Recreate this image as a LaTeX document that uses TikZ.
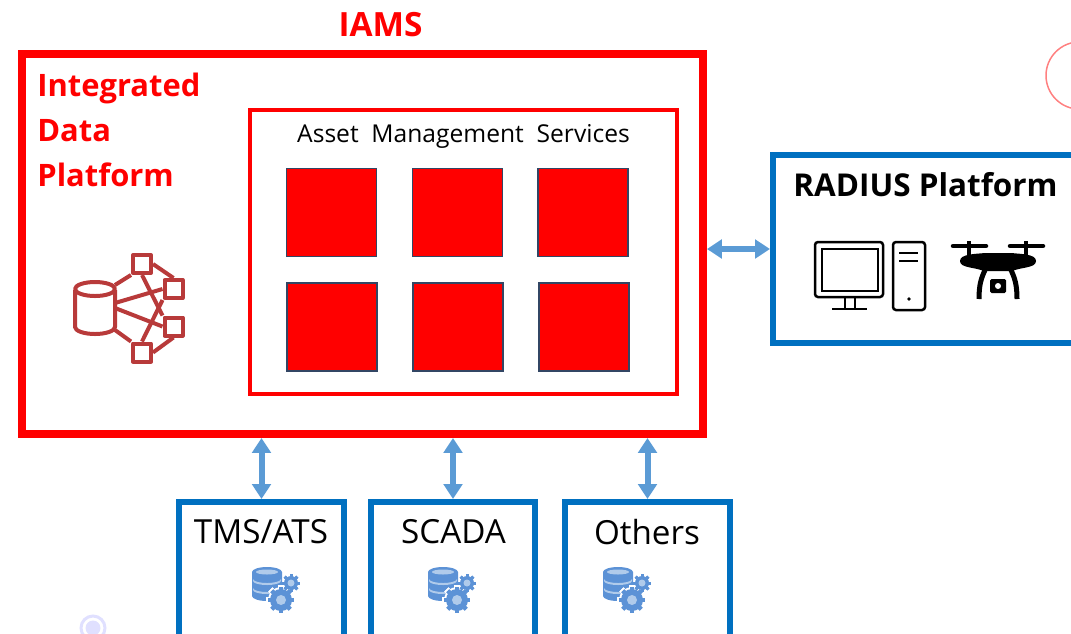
\documentclass[tikz,border=0pt]{standalone}
\usepackage{fontspec}
\setmainfont{Open Sans}
\usetikzlibrary{arrows.meta, positioning}

\definecolor{iamsred}{RGB}{255,0,0}
\definecolor{boxblue}{RGB}{0,112,192}
\definecolor{arrowblue}{RGB}{91,155,213}
\definecolor{iconred}{RGB}{184,58,58}
\definecolor{dbblue}{RGB}{92,146,214}
\definecolor{dblight}{RGB}{176,203,235}
\definecolor{squareedge}{RGB}{50,70,100}

\tikzset{
  redbox/.style={draw=iamsred, inner sep=0pt},
  bluebox/.style={draw=boxblue, line width=0.12cm, inner sep=0pt, anchor=north, minimum width=3.3cm, minimum height=5cm},
  service/.style={fill=iamsred, draw=squareedge, line width=0.03cm, inner sep=0pt, minimum width=1.8cm, minimum height=1.76cm},
  dblarrow/.style={{Triangle[length=0.3cm,width=0.37cm]}-{Triangle[length=0.3cm,width=0.37cm]}, draw=arrowblue, line width=0.12cm},
  iconline/.style={draw=iconred, line width=0.08cm, line join=round},
  pcline/.style={draw=black, line width=0.05cm, rounded corners=0.06cm},
  pics/dbgear/.style={code={
    \fill[dbblue] (0,4) -- (0,28) arc[start angle=180, end angle=0, x radius=15, y radius=5] -- (30,4) arc[start angle=0, end angle=-180, x radius=15, y radius=5] -- cycle;
    \fill[dblight] (1,11) arc[start angle=180, end angle=0, x radius=14, y radius=4] -- (29,13) arc[start angle=0, end angle=180, x radius=14, y radius=4] -- cycle;
    \fill[dblight] (1,20) arc[start angle=180, end angle=0, x radius=14, y radius=4] -- (29,22) arc[start angle=0, end angle=180, x radius=14, y radius=4] -- cycle;
    \fill[dblight] (15,4) ellipse[x radius=11, y radius=2.5];
    \foreach \a in {0,45,...,315} {
      \fill[white, rotate around={\a:(29,32)}] (26,17) rectangle (32,47);
    }
    \fill[white] (29,32) circle[radius=13];
    \foreach \a in {0,45,...,315} {
      \fill[dbblue, rotate around={\a:(29,32)}] (27,19) rectangle (31,45);
    }
    \fill[dbblue] (29,32) circle[radius=11];
    \fill[dblight] (29,32) circle[radius=5];
    \foreach \a in {0,45,...,315} {
      \fill[dbblue, rotate around={\a:(39,15)}] (37.5,6) rectangle (40.5,24);
    }
    \fill[dbblue] (39,15) circle[radius=7];
    \fill[dblight] (39,15) circle[radius=3.5];
  }}
}

\begin{document}
\begin{tikzpicture}[x=0.02cm, y=-0.02cm]
  \clip (0,0) rectangle (1071,633);

  % main boxes
  \node[redbox, line width=0.16cm, minimum width=13.62cm, minimum height=7.6cm] (iams) at (362.5,244) {};
  \node[redbox, line width=0.08cm, minimum width=8.54cm, minimum height=5.7cm] (ams) at (463.5,252) {};
  \node[draw=boxblue, line width=0.12cm, anchor=west, inner sep=0pt, minimum width=8cm, minimum height=3.78cm] (radius) at (770,249) {};
  \node[bluebox] (tms) at (261.5,499) {};
  \node[bluebox] (scada) at (453,499) {};
  \node[bluebox] (others) at (647.5,499) {};

  % labels
  \node[text=iamsred, font=\bfseries\fontsize{19}{22}\selectfont] (iamstitle) at (380.5,25) {IAMS};
  \node[text=iamsred, font=\bfseries\fontsize{17.6}{25.5}\selectfont, align=left, anchor=north west, inner sep=0pt] (idp) at (37,73) {Integrated\\Data\\Platform};
  \node[font=\fontsize{14}{16}\selectfont] (amstitle) at (463.5,136) {Asset\ \ Management\ \ Services};
  \node[font=\bfseries\fontsize{17.9}{20}\selectfont] (radiustitle) at (925.5,185) {RADIUS Platform};
  \node[font=\fontsize{18.9}{22}\selectfont] (tmstitle) at (261,532) {TMS/ATS};
  \node[font=\fontsize{18.9}{22}\selectfont] (scadatitle) at (453.5,532) {SCADA};
  \node[font=\fontsize{18.9}{22}\selectfont] (otherstitle) at (647,532) {Others};

  % service squares
  \node[service] (s1) at (331.5,212.5) {};
  \node[service] (s2) at (457.5,212.5) {};
  \node[service] (s3) at (583,212.5) {};
  \node[service] (s4) at (332,327) {};
  \node[service] (s5) at (458,327) {};
  \node[service] (s6) at (584,327) {};

  % connectors
  \draw[dblarrow] (iams.east |- radius) -- (radius.west);
  \draw[dblarrow] (tms.north |- iams.south) -- (tms.north);
  \draw[dblarrow] (scada.north |- iams.south) -- (scada.north);
  \draw[dblarrow] (others.north |- iams.south) -- (others.north);

  % data platform icon
  \draw[iconline] (75,290) -- (75,327) arc[start angle=180, end angle=0, x radius=20, y radius=7] -- (115,290);
  \draw[iconline] (95,289) ellipse[x radius=20, y radius=7];
  \node[iconline, minimum size=0.36cm, inner sep=0pt] (i1) at (142,264) {};
  \node[iconline, minimum size=0.36cm, inner sep=0pt] (i2) at (173.5,289) {};
  \node[iconline, minimum size=0.36cm, inner sep=0pt] (i3) at (173.5,326.5) {};
  \node[iconline, minimum size=0.36cm, inner sep=0pt] (i4) at (142,352.5) {};
  \draw[iconline] (115,285) -- (i1.south west);
  \draw[iconline] (115,303) -- (i2.west);
  \draw[iconline] (115,308) -- (i3.west);
  \draw[iconline] (115,330) -- (i4.north west);
  \draw[iconline] (i1.south) -- (i3.north west);
  \draw[iconline] (i4.north) -- (i2.south west);
  \draw[iconline] (i1.east) -- (i2.north);
  \draw[iconline] (i4.east) -- (i3.south);

  % computer icon
  \draw[pcline] (815,242) rectangle (883,297);
  \draw[draw=black, line width=0.05cm] (822,249) rectangle (878,291);
  \draw[draw=black, line width=0.05cm] (845,297) -- (845,309) (855,297) -- (855,309) (832,309) -- (867,309);
  \draw[pcline] (893,242) rectangle (925,310);
  \draw[draw=black, line width=0.05cm] (899,253) -- (918,253) (899,261) -- (918,261);
  \fill[black] (909,299) circle[radius=1.8];

  % drone icon
  \draw[black, line width=0.09cm, line cap=round] (953,246) -- (986,246) (1010,246) -- (1043,246);
  \draw[black, line width=0.09cm] (969,241) -- (969,258) (1026,241) -- (1026,258);
  \fill[black] (960,261) .. controls (960,254) and (975,254) .. (985,253) -- (1011,253) .. controls (1021,254) and (1036,254) .. (1036,261) .. controls (1036,268) and (1022,267) .. (1012,271) -- (984,271) .. controls (974,267) and (960,268) .. (960,261) -- cycle;
  \draw[black, line width=0.1cm] (986,268) .. controls (981,278) and (979,285) .. (979,299);
  \draw[black, line width=0.1cm] (1010,268) .. controls (1015,278) and (1017,285) .. (1017,299);
  \fill[black, rounded corners=0.03cm] (990,279) rectangle (1006,293);
  \fill[white] (998,286) circle[radius=3];

  % database icons
  \pic at (252,568) {dbgear};
  \pic at (428,568) {dbgear};
  \pic at (603,568) {dbgear};

  % leftover circles
  \draw[draw=red!50!white, line width=0.03cm] (1079.6,75.5) circle[radius=33.6];
  \draw[draw=blue!12!white, line width=0.06cm] (93,628) circle[radius=12];
  \fill[blue!12!white] (93,628) circle[radius=7.5];
\end{tikzpicture}
\end{document}
